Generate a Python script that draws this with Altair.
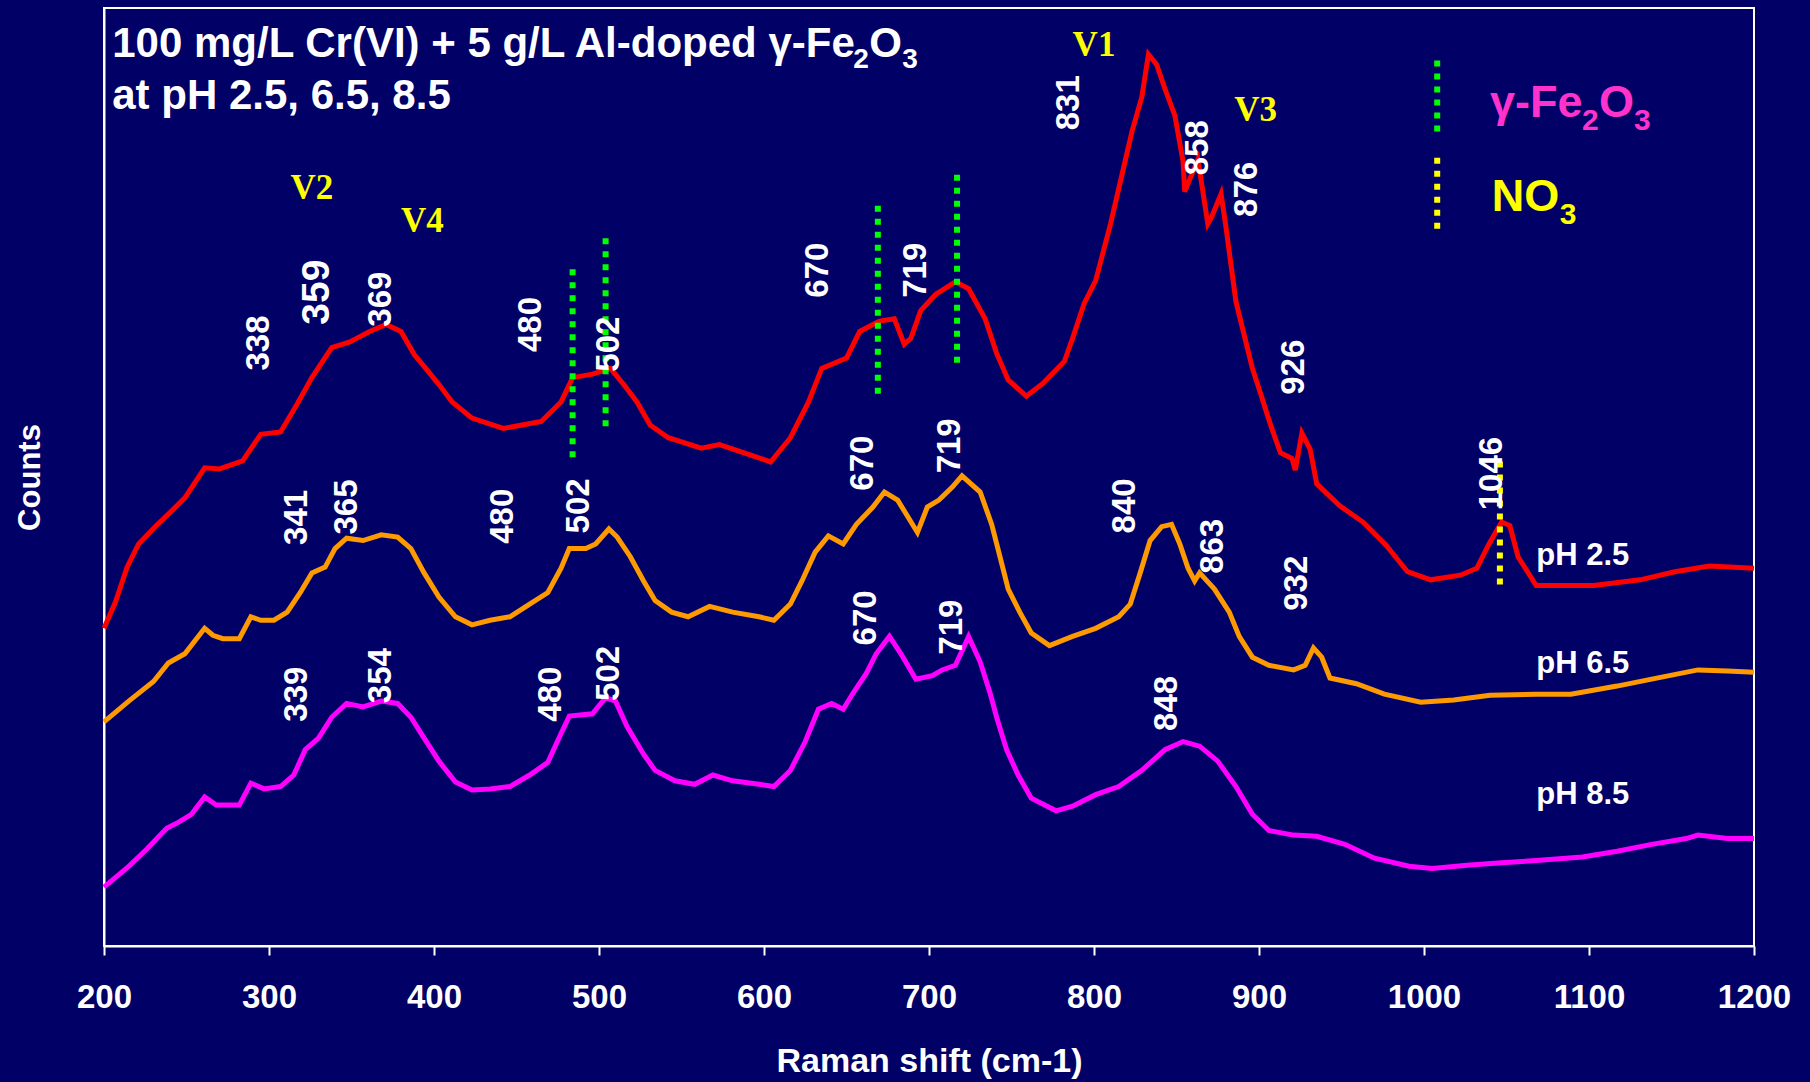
import altair as alt
import pandas as pd

FONT = "Liberation Sans"
SERIF = "Liberation Serif"

# ---------------- Raman spectra (counts in arbitrary, vertically offset units) ----------------
shift_25 = [200, 207, 214, 221, 231, 242, 249, 261, 270, 284,
            295, 307, 317, 326, 338, 349, 361, 371, 380, 388,
            395, 403, 411, 423, 442, 465, 477, 484, 496, 507,
            515, 523, 531, 542, 562, 573, 592, 604, 616, 627,
            635, 650, 658, 670, 679, 685, 689, 695, 704, 716,
            724, 734, 741, 748, 759, 769, 782, 787, 794, 801,
            810, 817, 823, 829, 833, 838, 843, 849, 854, 855,
            863, 869, 871, 877, 880, 886, 891, 896, 901, 905,
            908, 913, 920, 922, 926, 931, 935, 949, 963, 977,
            990, 1004, 1022, 1032, 1039, 1047, 1052, 1057, 1068, 1103,
            1131, 1152, 1173, 1200]
counts_25 = [275, 298, 328, 348, 363, 378, 388, 414, 413, 420,
             443, 445, 469, 492, 518, 523, 532, 538, 532, 512,
             500, 486, 471, 457, 448, 454, 471, 492, 495, 500,
             486, 471, 451, 440, 431, 434, 425, 419, 440, 471,
             500, 509, 532, 541, 543, 521, 526, 550, 564, 575,
             569, 543, 513, 490, 476, 487, 506, 526, 556, 576,
             625, 668, 705, 735, 772, 763, 742, 719, 679, 653,
             681, 625, 630, 651, 622, 558, 529, 500, 478, 460,
             447, 427, 422, 412, 444, 430, 400, 381, 367, 347,
             324, 317, 321, 327, 347, 367, 364, 337, 312, 312,
             317, 324, 329, 327]

shift_65 = [200, 215, 230, 239, 249, 261, 266, 272, 282, 289,
            295, 303, 311, 319, 326, 334, 340, 347, 357, 368,
            378, 386, 394, 403, 413, 423, 434, 446, 458, 469,
            477, 482, 492, 498, 506, 511, 519, 527, 534, 544,
            554, 567, 581, 597, 606, 616, 623, 631, 639, 648,
            656, 666, 673, 681, 687, 693, 699, 706, 714, 720,
            731, 738, 743, 748, 755, 762, 773, 787, 801,
            815, 822, 828, 834, 841, 847, 852, 857, 861, 864,
            873, 882, 888, 896, 906, 921, 928, 933, 938, 943,
            959, 976, 998, 1018, 1040, 1068, 1089, 1117, 1138, 1166,
            1184, 1200]
counts_65 = [194, 212, 229, 245, 253, 275, 269, 266, 266, 285,
             282, 282, 289, 306, 323, 328, 344, 353, 351, 356,
             354, 344, 323, 302, 285, 278, 282, 285, 296, 306,
             327, 344, 344, 348, 361, 354, 337, 316, 299, 289,
             285, 294, 289, 285, 282, 296, 316, 341, 355, 348,
             365, 380, 393, 386, 372, 358, 380, 386, 397, 407,
             393, 365, 337, 309, 289, 271, 260, 268, 275,
             285, 296, 323, 351, 363, 365, 348, 327, 316, 323,
             309, 289, 268, 250, 243, 239, 243, 258, 250, 232,
             227, 218, 211, 213, 217, 218, 218, 225, 231, 239,
             238, 237]

shift_85 = [200, 215, 226, 238, 245, 253, 261, 268, 282, 289,
            297, 307, 315, 322, 330, 338, 347, 357, 368, 378,
            386, 394, 403, 413, 423, 434, 446, 458, 469, 477,
            482, 496, 504, 510, 517, 527, 534, 546, 558, 569,
            581, 597, 606, 616, 625, 633, 641, 648, 654, 662,
            668, 676, 683, 692, 702, 708, 716, 724, 731, 737,
            741, 747, 754, 762, 777, 787, 801, 815, 829, 843,
            854, 864, 875, 886, 896, 906, 921, 935, 952, 970,
            991, 1005, 1026, 1047, 1068, 1096, 1117, 1138, 1159, 1166,
            1184, 1200]
counts_85 = [51, 69, 84, 102, 107, 114, 129, 122, 122, 141,
             136, 138, 148, 170, 180, 198, 210, 207, 212, 210,
             198, 180, 160, 142, 135, 136, 138, 148, 159, 184,
             199, 201, 215, 212, 190, 166, 152, 143, 140, 148,
             143, 140, 138, 152, 177, 205, 210, 205, 219, 236,
             253, 268, 253, 231, 234, 239, 243, 268, 246, 219,
             198, 170, 148, 128, 117, 121, 131, 138, 152, 170,
             177, 173, 160, 138, 114, 100, 96, 95, 88, 76,
             69, 67, 70, 72, 74, 77, 82, 88, 93, 96,
             93, 93]

series_names = ["pH 2.5", "pH 6.5", "pH 8.5"]
series_colors = ["#FF0000", "#FF9900", "#FF00FF"]

# ---------------- reference band markers ----------------
fe2o3_shift = [484, 504, 669, 717]
fe2o3_low = [423, 450, 478, 505]
fe2o3_high = [588, 616, 643, 671]
no3_shift = [1046]
no3_low = [313]
no3_high = [422]

# key entries for the two marker types
key_shift = [1008]
key_fe2o3_low, key_fe2o3_high = [705], [768]
key_no3_low, key_no3_high = [621], [684]

# ---------------- peak annotations ----------------
peak_text = ["338", "369", "480", "502", "670", "719", "831", "858", "876", "926", "1046",
             "341", "365", "480", "502", "670", "719", "840", "863", "932",
             "339", "354", "480", "502", "670", "719", "848"]
peak_shift = [294, 368, 459, 506, 633, 692, 785, 863, 893, 921, 1041,
              317, 347, 442, 488, 660, 713, 819, 872, 923,
              317, 368, 471, 506, 662, 714, 844]
peak_counts = [522, 560, 538, 521, 585, 585, 730, 691, 655, 501, 409,
               371, 380, 372, 381, 418, 433, 381, 346, 314,
               218, 234, 218, 236, 284, 276, 210]
main_peak_text = ["359"]
main_peak_shift = [329]
main_peak_counts = [566]

mode_text = ["V2", "V4", "V1", "V3"]
mode_shift = [326, 393, 800, 898]
mode_counts = [656, 628, 780, 724]

ph_shift = [1068, 1068, 1068]
ph_counts = [330, 236, 123]

title_shift = 205
title_counts = [770, 725]

# ---------------- tables ----------------
spectra = pd.concat([
    pd.DataFrame({"shift": s, "counts": c, "series": n})
    for s, c, n in zip([shift_25, shift_65, shift_85],
                       [counts_25, counts_65, counts_85], series_names)
], ignore_index=True)

fe2o3 = pd.DataFrame({"shift": fe2o3_shift + key_shift,
                      "low": fe2o3_low + key_fe2o3_low,
                      "high": fe2o3_high + key_fe2o3_high})
no3 = pd.DataFrame({"shift": no3_shift + key_shift,
                    "low": no3_low + key_no3_low,
                    "high": no3_high + key_no3_high})

peaks = pd.DataFrame({"shift": peak_shift, "counts": peak_counts, "label": peak_text})
main_peak = pd.DataFrame({"shift": main_peak_shift, "counts": main_peak_counts, "label": main_peak_text})
modes = pd.DataFrame({"shift": mode_shift, "counts": mode_counts, "label": mode_text})
ph_labels = pd.DataFrame({"shift": ph_shift, "counts": ph_counts, "label": series_names})

# ---------------- scales and axes ----------------
x_scale = alt.Scale(domain=[200, 1200], nice=False, zero=False)
y_scale = alt.Scale(domain=[0, 812], nice=False, zero=False)

x_axis = alt.Axis(values=list(range(200, 1201, 100)), format="d",
                  labelFont=FONT, labelFontSize=33, labelFontWeight="bold",
                  labelColor="white", labelPadding=26, labelFlush=False,
                  tickColor="white", tickSize=9, tickWidth=2,
                  domainColor="white", domainWidth=2, grid=False,
                  titleFont=FONT, titleFontSize=34, titleFontWeight="bold",
                  titleColor="white", titlePadding=30)
y_axis = alt.Axis(labels=False, ticks=False, grid=False,
                  domainColor="white", domainWidth=2,
                  titleFont=FONT, titleFontSize=31, titleFontWeight="bold",
                  titleColor="white", titlePadding=58)


def xenc():
    return alt.X("shift:Q", scale=x_scale, axis=x_axis, title="Raman shift (cm-1)")


def yenc(field="counts"):
    return alt.Y(f"{field}:Q", scale=y_scale, axis=y_axis, title="Counts")


def point_table(shift, counts, label):
    return pd.DataFrame({"shift": [shift], "counts": [counts], "label": [label]})


def text_layer(df, **style):
    return alt.Chart(df).mark_text(**style).encode(x=xenc(), y=yenc(), text="label:N")


lines = alt.Chart(spectra).mark_line(strokeWidth=5).encode(
    x=xenc(), y=yenc(),
    color=alt.Color("series:N", scale=alt.Scale(domain=series_names, range=series_colors), legend=None),
    order="shift:Q",
)

fe_rules = alt.Chart(fe2o3).mark_rule(color="#00FF00", strokeWidth=6, strokeDash=[6, 7]).encode(
    x=xenc(), y=yenc("low"), y2="high:Q")
no3_rules = alt.Chart(no3).mark_rule(color="#FFFF00", strokeWidth=6, strokeDash=[6, 7]).encode(
    x=xenc(), y=yenc("low"), y2="high:Q")

peak_labels = text_layer(peaks, font=FONT, fontSize=33, fontWeight="bold", color="white",
                         angle=270, align="center", baseline="middle")
main_label = text_layer(main_peak, font=FONT, fontSize=39, fontWeight="bold", color="white",
                        angle=270, align="center", baseline="middle")
mode_labels = text_layer(modes, font=SERIF, fontSize=35, fontWeight="bold", color="#FFFF00",
                         align="center", baseline="middle")
ph_layer = text_layer(ph_labels, font=FONT, fontSize=31, fontWeight="bold", color="white",
                      align="left", baseline="alphabetic")

# heading, written piece by piece so the formula carries subscripts
head_style = dict(font=FONT, fontWeight="bold", color="white", align="left", baseline="alphabetic")
heading = [
    text_layer(point_table(title_shift, title_counts[0], "100 mg/L Cr(VI) + 5 g/L Al-doped \u03b3-Fe"),
               fontSize=42, **head_style),
    text_layer(point_table(title_shift, title_counts[0], "2"), fontSize=28, dx=741, dy=11, **head_style),
    text_layer(point_table(title_shift, title_counts[0], "O"), fontSize=42, dx=757, **head_style),
    text_layer(point_table(title_shift, title_counts[0], "3"), fontSize=28, dx=790, dy=11, **head_style),
    text_layer(point_table(title_shift, title_counts[1], "at pH 2.5, 6.5, 8.5"), fontSize=42, **head_style),
]

# key labels beside the dotted markers
pink = dict(font=FONT, fontWeight="bold", color="#FF33CC", align="left", baseline="alphabetic")
yellow = dict(font=FONT, fontWeight="bold", color="#FFFF00", align="left", baseline="alphabetic")
key_text = [
    text_layer(point_table(1040, 718, "\u03b3-Fe"), fontSize=45, **pink),
    text_layer(point_table(1040, 718, "2"), fontSize=30, dx=92, dy=13, **pink),
    text_layer(point_table(1040, 718, "O"), fontSize=45, dx=109, **pink),
    text_layer(point_table(1040, 718, "3"), fontSize=30, dx=144, dy=13, **pink),
    text_layer(point_table(1041, 636, "NO"), fontSize=45, **yellow),
    text_layer(point_table(1041, 636, "3"), fontSize=30, dx=68, dy=13, **yellow),
]

chart = alt.layer(
    lines, fe_rules, no3_rules, peak_labels, main_label, mode_labels, ph_layer, *heading, *key_text
).properties(
    width=1650,
    height=938,
    autosize=alt.AutoSizeParams(type="none"),
    padding={"left": 104, "top": 8, "right": 56, "bottom": 136},
    background="#000066",
).configure_view(stroke="white", strokeWidth=2)

chart.save("out.html", embed_options={"renderer": "svg", "actions": False})
